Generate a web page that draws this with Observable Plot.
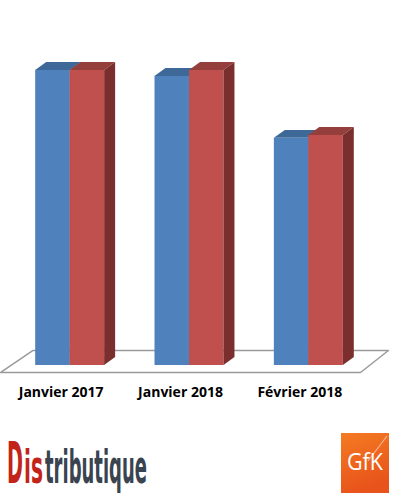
<!DOCTYPE html>
<html><head><meta charset="utf-8">
<script src="https://cdn.jsdelivr.net/npm/d3@7"></script>
<script src="https://cdn.jsdelivr.net/npm/@observablehq/plot@0.6"></script>
<style>
body{margin:0;background:#fff;}
#chart svg, #footer svg{display:block}
</style>
</head><body><div id="chart"></div><div id="footer"></div>
<script>
const categories = ["Janvier 2017", "Janvier 2018", "Février 2018"];
const seriesNames = ["Série 1", "Série 2"];
const blueValues = [100, 98, 77];
const redValues = [100, 100, 78];
const frontColors = ["#4f81bd", "#c0504d"];
const topColors = ["#3d6898", "#943f3c"];
const sideColors = ["#3a5e8a", "#7a2f2e"];

// geometry (category units / value units)
const barW = 0.289;   // width of one bar's front face
const DX = 0.092;     // depth offset along x
const DY = 2.7;       // depth offset along y
const floorX = [-0.582, 2.433, 2.667, -0.314, -0.582];
const floorY = [-2.37, -2.37, 5.08, 5.08, -2.37];

const valuesBySeries = [blueValues, redValues];
const bars = [];
valuesBySeries.forEach((vals, s) => vals.forEach((v, i) => {
  bars.push({id: s + "-" + i, s, i, value: v, x1: i + (s - 1) * barW, x2: i + s * barW});
}));
const sidePts = bars.flatMap(b => [
  {id: b.id, s: b.s, x: b.x2, y1: 0, y2: b.value},
  {id: b.id, s: b.s, x: b.x2 + DX, y1: DY, y2: b.value + DY}
]);
const topPts = bars.flatMap(b => [
  {id: b.id, s: b.s, y: b.value, x1: b.x1, x2: b.x2},
  {id: b.id, s: b.s, y: b.value + DY, x1: b.x1 + DX, x2: b.x2 + DX}
]);
const floorPts = floorX.map((x, k) => ({x, y: floorY[k]}));

const marks = [
  Plot.line(floorPts, {x: "x", y: "y", fill: "#fff", stroke: "#9a9a9a", strokeWidth: 1.5})
];
[0, 1].forEach(s => {
  marks.push(
    Plot.rectY(bars.filter(b => b.s === s), {x1: "x1", x2: "x2", y1: 0, y2: "value", fill: frontColors[s]}),
    Plot.areaX(topPts.filter(d => d.s === s), {y: "y", x1: "x1", x2: "x2", z: "id", fill: topColors[s]}),
    Plot.areaY(sidePts.filter(d => d.s === s), {x: "x", y1: "y1", y2: "y2", z: "id", fill: sideColors[s]})
  );
});
marks.push(Plot.axisX(categories.map((c, i) => i), {
  tickSize: 0, tickPadding: 22, dx: -9,
  tickFormat: i => categories[i],
  fontSize: 14, fontWeight: "bold", fill: "#000"
}));

const chart = Plot.plot({
  width: 393, height: 415,
  marginLeft: 10, marginRight: 25, marginTop: 70, marginBottom: 50,
  x: {domain: [-0.5, 2.5], axis: null},
  y: {domain: [0, 100], axis: null},
  style: {fontFamily: "'Open Sans', Lato, sans-serif", background: "#fff", color: "#000", overflow: "visible"},
  marks
});
document.getElementById("chart").appendChild(chart);

// footer logos
const ns = "http://www.w3.org/2000/svg";
const f = d3.select("#footer").append("svg").attr("xmlns", ns).attr("width", 393).attr("height", 83);
function fitText(txt, x, y, w, size, color, family, weight) {
  const el = f.append("text").attr("x", 0).attr("y", 0)
    .attr("font-family", family).attr("font-weight", weight).attr("font-size", size)
    .attr("fill", color).text(txt);
  const len = el.node().getComputedTextLength() || w;
  el.attr("transform", `translate(${x},${y}) scale(${w / len},1)`);
  return el;
}
const logoFont = "'Liberation Sans Narrow', 'DejaVu Sans Condensed', 'Liberation Sans', sans-serif";
const logoParts = [
  {txt: "D", x: 7, w: 16, size: 57, color: "#c22419"},
  {txt: "is", x: 24, w: 19, size: 46, color: "#c22419"},
  {txt: "tributique", x: 45, w: 102, size: 46, color: "#3a4350"}
];
logoParts.forEach(p => fitText(p.txt, p.x, 68, p.w, p.size, p.color, logoFont, "bold"));

const defs = f.append("defs");
const g = defs.append("linearGradient").attr("id", "gfk").attr("x1", 0).attr("y1", 0).attr("x2", 0.3).attr("y2", 1);
g.append("stop").attr("offset", "0%").attr("stop-color", "#f47b22");
g.append("stop").attr("offset", "100%").attr("stop-color", "#e8531b");
f.append("rect").attr("x", 341).attr("y", 18).attr("width", 48).attr("height", 60).attr("fill", "url(#gfk)");
f.append("line").attr("x1", 387).attr("y1", 21).attr("x2", 368).attr("y2", 46)
  .attr("stroke", "#fff").attr("stroke-opacity", 0.5).attr("stroke-width", 1.2);
fitText("GfK", 347, 55, 36, 24, "#fff", "'Open Sans', sans-serif", "normal");
</script>
</body></html>
